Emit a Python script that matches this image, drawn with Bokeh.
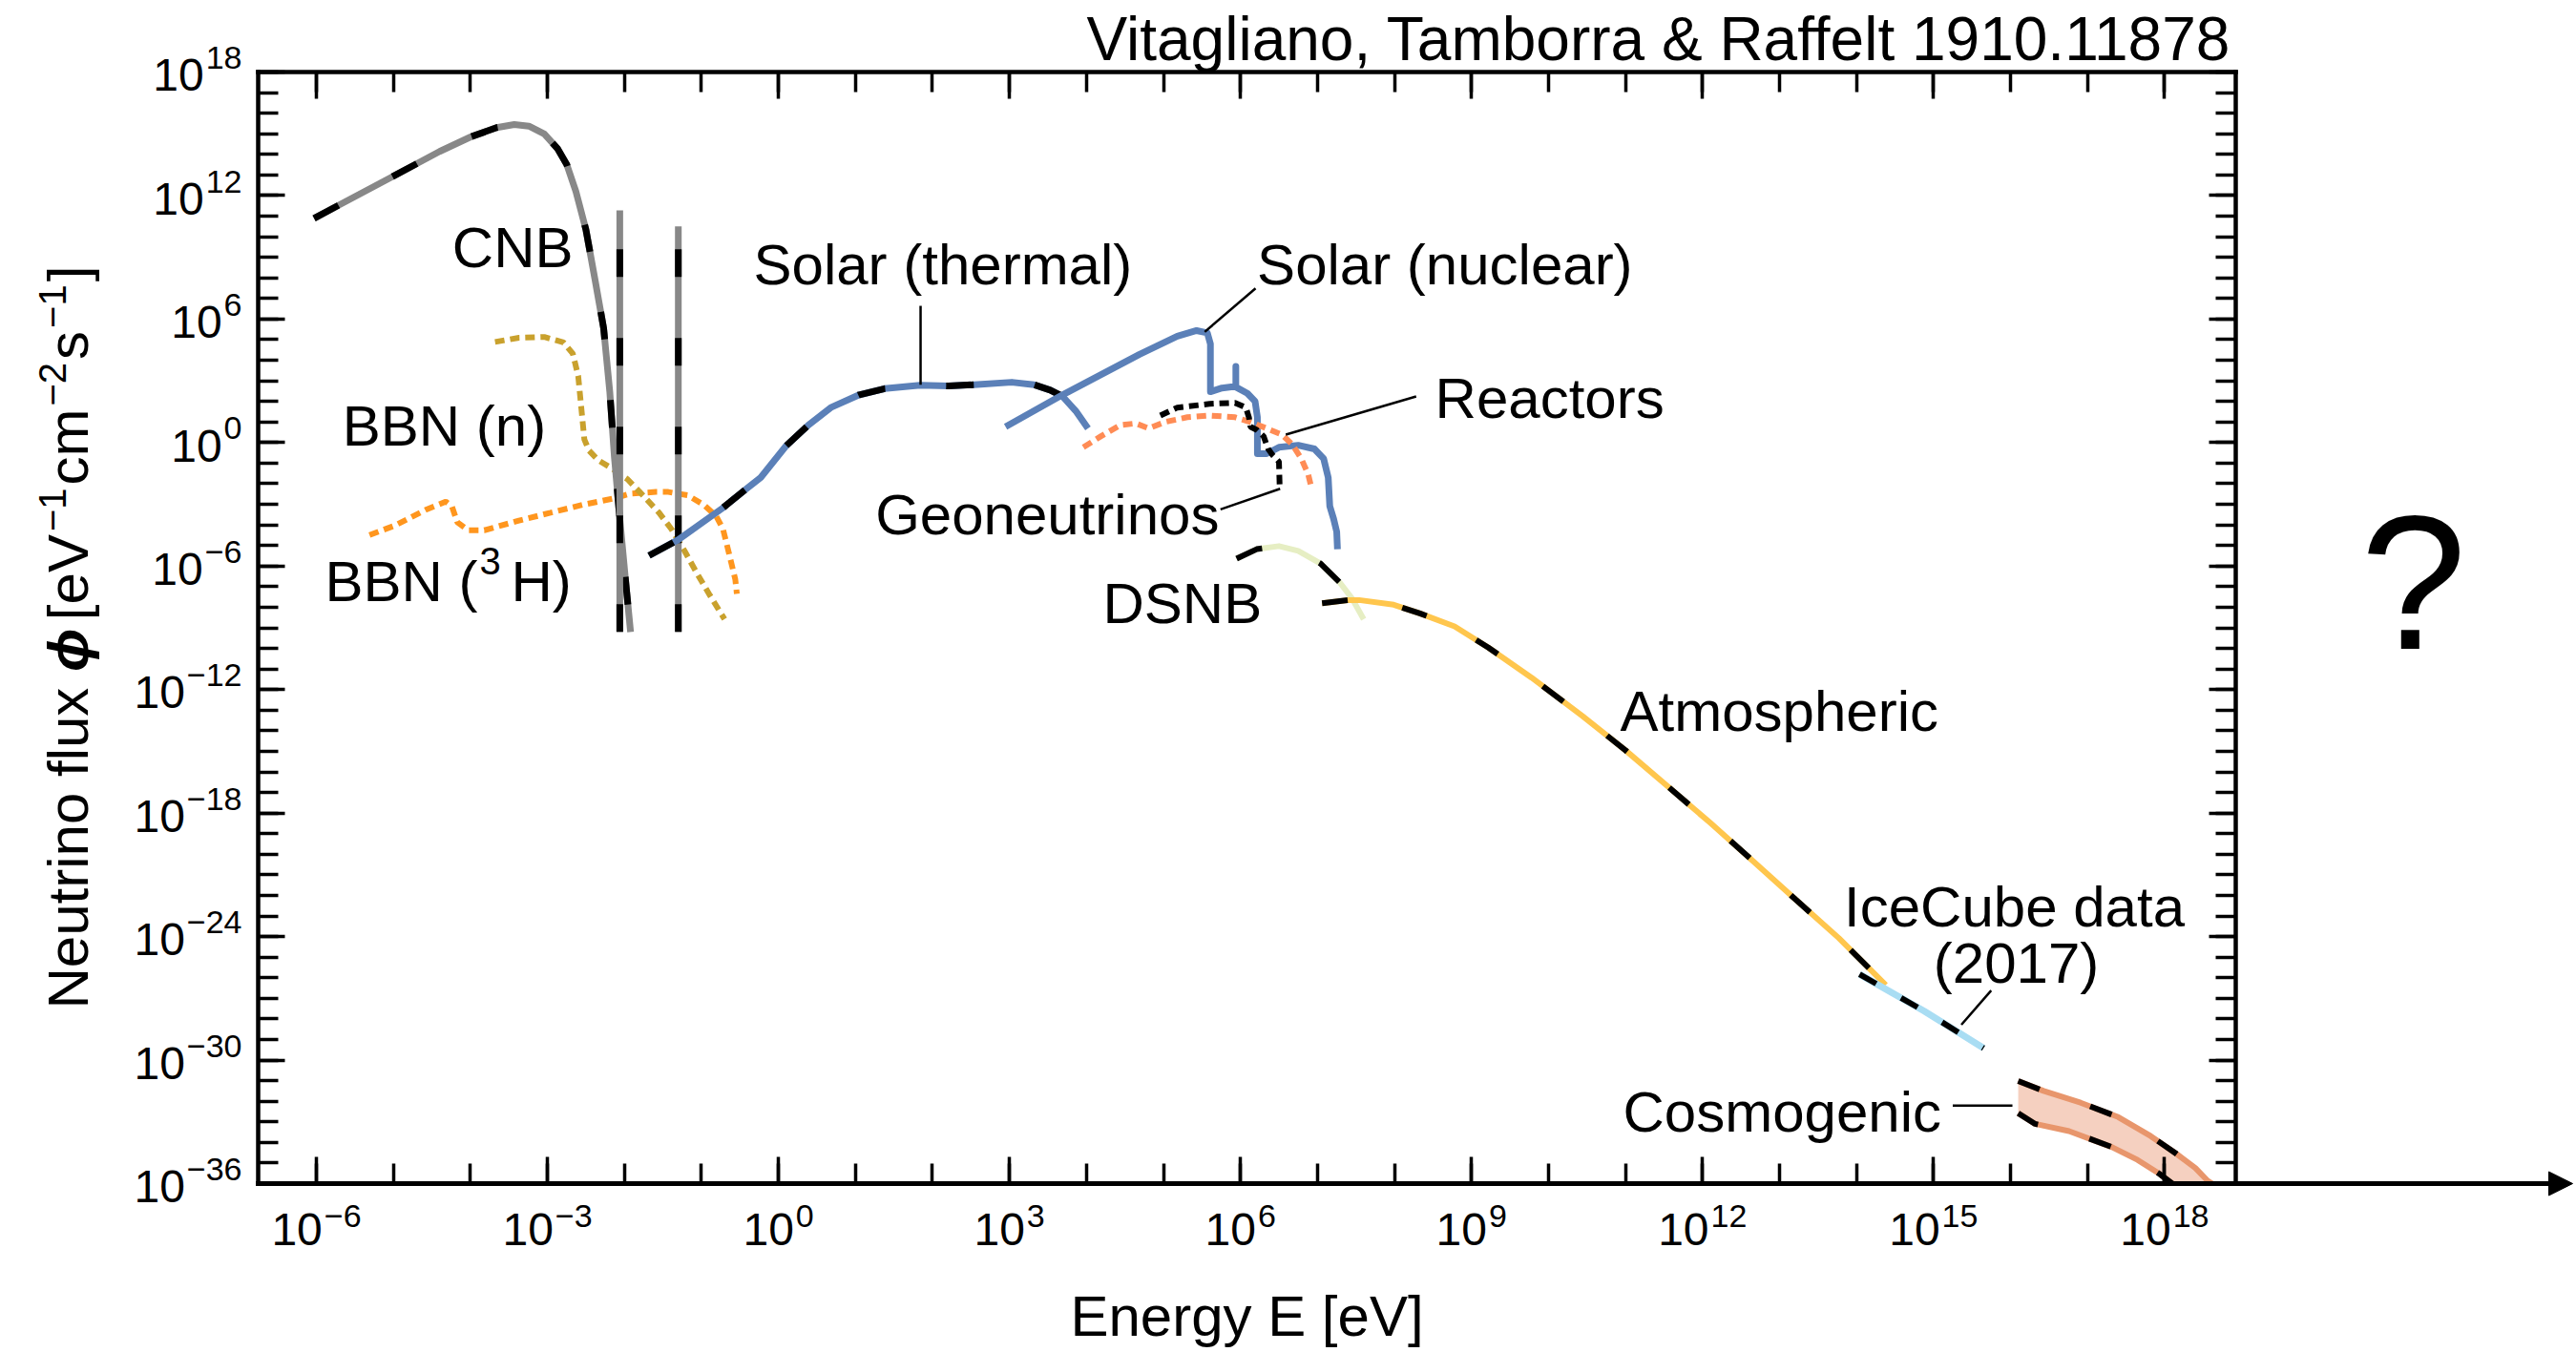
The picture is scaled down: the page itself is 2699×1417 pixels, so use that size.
import math
from bokeh.plotting import figure
from bokeh.models import Label, Arrow, NormalHead, FixedTicker, LogAxis, Range1d, CustomJSTickFormatter
from bokeh.embed import file_html
from bokeh.resources import INLINE

# ---------------- data : log10(E / eV) and log10(flux / eV^-1 cm^-2 s^-1) ----------------
cnb_logE = [-6.03, -5.72, -5.02, -4.40, -3.99, -3.66, -3.43, -3.24, -3.04, -2.87, -2.75, -2.63,
            -2.50, -2.38, -2.27, -2.19, -2.13, -2.06, -1.99, -1.92]
cnb_logF = [10.89, 11.51, 12.90, 14.14, 14.86, 15.30, 15.45, 15.37, 14.99, 14.29, 13.52, 12.20,
            10.35, 7.88, 5.56, 2.47, -0.70, -3.70, -6.50, -9.20]
cnb_lines_logE = [-2.06, -1.30]
cnb_lines_top = [11.28, 10.50]
cnb_lines_bottom = [-9.20, -9.20]

bbn_n_logE = [-3.68, -3.37, -3.04, -2.79, -2.67, -2.60, -2.56, -2.52, -2.46, -2.34, -2.17, -1.96,
              -1.76, -1.55, -1.39, -1.22, -1.06, -0.89, -0.70]
bbn_n_logF = [4.89, 5.09, 5.13, 4.86, 4.32, 3.24, 1.69, 0.15, -0.39, -0.86, -1.24, -1.78,
              -2.56, -3.41, -4.20, -5.26, -6.34, -7.42, -8.58]

bbn_h_logE = [-5.31, -4.98, -4.57, -4.32, -4.24, -4.17, -4.03, -3.82, -3.37, -2.96, -2.54, -2.13,
              -1.92, -1.59, -1.43, -1.18, -0.97, -0.81, -0.72, -0.64, -0.56, -0.54]
bbn_h_logF = [-4.49, -4.03, -3.25, -2.87, -3.10, -3.87, -4.26, -4.26, -3.79, -3.41, -3.02, -2.71,
              -2.48, -2.40, -2.40, -2.56, -3.02, -3.56, -4.20, -5.41, -6.65, -7.35]

solar_th_logE = [-1.68, -1.30, -0.72, -0.44, -0.23, 0.10, 0.39, 0.68, 1.05, 1.38, 1.84, 2.21,
                 2.54, 3.03, 3.32, 3.53, 3.69, 3.86, 4.02]
solar_th_logF = [-5.49, -4.72, -3.17, -2.32, -1.70, -0.16, 0.85, 1.70, 2.32, 2.62, 2.78, 2.75,
                 2.81, 2.93, 2.81, 2.55, 2.24, 1.54, 0.69]

solar_nu_logE = [2.95, 3.69, 4.69, 5.18, 5.43, 5.57, 5.61, 5.61, 5.76, 5.88, 5.94, 5.94, 5.94,
                 6.09, 6.19, 6.22, 6.22, 6.34, 6.50, 6.75, 6.96, 7.08, 7.14, 7.16, 7.21, 7.25, 7.26]
solar_nu_logF = [0.77, 2.32, 4.29, 5.17, 5.44, 5.33, 4.79, 2.47, 2.65, 2.70, 2.70, 3.70, 2.70,
                 2.39, 2.00, 1.23, -0.54, -0.54, -0.23, -0.13, -0.31, -0.78, -1.70, -3.09, -3.71,
                 -4.33, -5.18]

geo_logE = [4.96, 5.18, 5.60, 5.93, 6.07, 6.11, 6.13, 6.21, 6.30, 6.36, 6.42, 6.50, 6.51]
geo_logF = [1.31, 1.70, 1.88, 1.93, 1.70, 1.23, 0.77, 0.62, 0.31, -0.31, -0.62, -0.93, -2.25]

reac_logE = [3.96, 4.19, 4.44, 4.64, 4.81, 5.02, 5.31, 5.60, 5.93, 6.13, 6.34, 6.54, 6.67, 6.79,
             6.88, 6.92]
reac_logF = [-0.23, 0.31, 0.85, 0.93, 0.69, 1.00, 1.23, 1.31, 1.23, 1.00, 0.69, 0.38, -0.08,
             -0.78, -1.55, -2.17]

dsnb_logE = [5.95, 6.21, 6.50, 6.75, 7.04, 7.29, 7.45, 7.60]
dsnb_logF = [-5.64, -5.18, -5.03, -5.26, -5.88, -6.80, -7.58, -8.58]

atm_logE = [7.06, 7.41, 7.54, 7.99, 8.33, 8.78, 9.22, 9.78, 10.44, 11.00, 11.55, 12.10, 12.66,
            13.21, 13.77, 14.38]
atm_logF = [-7.81, -7.65, -7.65, -7.88, -8.30, -8.93, -9.96, -11.42, -13.28, -14.95, -16.71,
            -18.47, -20.34, -22.20, -24.07, -26.35]

ice_logE = [14.04, 14.88, 15.65]
ice_logF = [-25.83, -27.62, -29.42]

cosmo_up_logE = [16.10, 16.43, 16.91, 17.40, 17.82, 18.15, 18.40, 18.56, 18.62]
cosmo_up_logF = [-31.02, -31.50, -32.07, -32.77, -33.69, -34.54, -35.24, -35.86, -36.00]
cosmo_lo_logE = [16.10, 16.32, 16.76, 17.32, 17.65, 17.94, 18.10]
cosmo_lo_logF = [-32.58, -33.10, -33.45, -34.23, -34.85, -35.54, -36.00]

x_major_exps = [-6, -3, 0, 3, 6, 9, 12, 15, 18]
x_minor_exps = list(range(-6, 19))
y_major_exps = [18, 12, 6, 0, -6, -12, -18, -24, -30, -36]
y_minor_exps = list(range(-36, 19))

# ---------------- geometry ----------------
XMIN, XMAX = -6.756, 18.925          # plot frame (decades)
YMIN, YMAX = -36.0, 18.0
W, H = 2699, 1417
FL, FR, FT, FB = 270, 2342, 75, 1240  # frame box in canvas pixels
PX = (FR - FL) / (XMAX - XMIN)       # pixels per decade (x)
PY = (FB - FT) / (YMAX - YMIN)       # pixels per decade (y)
FONT = "Liberation Sans"


def ex(v):
    return [10.0 ** t for t in v]


def px2x(X):
    return XMIN + (X - FL) / PX


def px2y(Y):
    return YMAX - (Y - FT) / PY


# the drawing area spans the whole canvas; the framed axes sit at fixed locations
p = figure(width=W, height=H, x_axis_type="log", y_axis_type="log",
           x_range=Range1d(10 ** px2x(0), 10 ** px2x(W)),
           y_range=Range1d(10 ** px2y(H), 10 ** px2y(0)),
           output_backend="svg", toolbar_location=None, min_border=0)
p.outline_line_color = None
p.grid.visible = False
p.background_fill_color = "white"
p.border_fill_color = "white"

bottom_axis = p.below[0]
left_axis = p.left[0]
top_axis = LogAxis()
right_axis = LogAxis()
p.add_layout(top_axis, "above")
p.add_layout(right_axis, "right")


def style_axis(ax, major, minor, lw, loc, bounds):
    ax.fixed_location = loc
    ax.bounds = bounds
    ax.ticker = FixedTicker(ticks=ex(major), minor_ticks=ex(minor))
    ax.formatter = CustomJSTickFormatter(code="return ''")
    ax.axis_line_width = lw
    ax.axis_line_color = "black"
    ax.axis_line_cap = "square"
    ax.major_tick_in = 28
    ax.major_tick_out = 0
    ax.minor_tick_in = 21
    ax.minor_tick_out = 0
    ax.major_tick_line_width = 3.5
    ax.minor_tick_line_width = 3.5
    ax.major_tick_line_color = "black"
    ax.minor_tick_line_color = "black"
    ax.major_label_text_font_size = "0px"
    ax.major_label_standoff = 0


xb = (10 ** XMIN, 10 ** XMAX)
yb = (10 ** YMIN, 10 ** YMAX)
style_axis(bottom_axis, x_major_exps, x_minor_exps, 5, 10 ** YMIN, xb)
style_axis(top_axis, x_major_exps, x_minor_exps, 4.5, 10 ** YMAX, xb)
style_axis(left_axis, y_major_exps, y_minor_exps, 4.5, 10 ** XMIN, yb)
style_axis(right_axis, y_major_exps, y_minor_exps, 4.5, 10 ** XMAX, yb)

# x-axis arrow beyond the frame
p.add_layout(Arrow(end=NormalHead(size=25, fill_color="black", line_color="black", line_width=1),
                   x_start=10 ** XMAX, y_start=10 ** YMIN,
                   x_end=10 ** px2x(2695), y_end=10 ** YMIN,
                   line_color="black", line_width=5))

DASH = "29 64"
DOT = "10 6"
LW = 7
LW2 = 6

# ---------------- curves ----------------
band_x = ex(cosmo_up_logE + cosmo_lo_logE[::-1])
band_y = ex(cosmo_up_logF + cosmo_lo_logF[::-1])
p.patch(band_x, band_y, fill_color="#F5D0C0", line_color=None)
for xs, ys in [(cosmo_up_logE, cosmo_up_logF), (cosmo_lo_logE, cosmo_lo_logF)]:
    p.line(ex(xs), ex(ys), line_color="#E8966C", line_width=LW2)
    p.line(ex(xs), ex(ys), line_color="black", line_width=LW2, line_dash="24 56")

p.line(ex(bbn_h_logE), ex(bbn_h_logF), line_color="#FF961E", line_width=LW2, line_dash=DOT)
p.line(ex(bbn_n_logE), ex(bbn_n_logF), line_color="#C9A12D", line_width=LW2, line_dash=DOT)

p.line(ex(cnb_logE), ex(cnb_logF), line_color="#888888", line_width=LW, line_join="round")
p.line(ex(cnb_logE), ex(cnb_logF), line_color="black", line_width=LW, line_dash=DASH)
for xe, yt, ybt in zip(cnb_lines_logE, cnb_lines_top, cnb_lines_bottom):
    p.line(ex([xe, xe]), ex([ybt, yt]), line_color="#888888", line_width=LW)
    p.line(ex([xe, xe]), ex([ybt, yt]), line_color="black", line_width=LW, line_dash=DASH)

p.line(ex(solar_th_logE), ex(solar_th_logF), line_color="#5B80B8", line_width=LW, line_join="round")
p.line(ex(solar_th_logE), ex(solar_th_logF), line_color="black", line_width=LW, line_dash=DASH)
p.line(ex(solar_nu_logE), ex(solar_nu_logF), line_color="#5B80B8", line_width=LW, line_join="round")

p.line(ex(reac_logE), ex(reac_logF), line_color="#FF8C55", line_width=LW2, line_dash=DOT)
p.line(ex(geo_logE), ex(geo_logF), line_color="black", line_width=LW2, line_dash=DOT)

p.line(ex(dsnb_logE), ex(dsnb_logF), line_color="#E6EEC3", line_width=LW2, line_join="round")
p.line(ex(dsnb_logE), ex(dsnb_logF), line_color="black", line_width=LW2, line_dash=DASH)

p.line(ex(atm_logE), ex(atm_logF), line_color="#FFC64D", line_width=LW2, line_join="round")
p.line(ex(atm_logE), ex(atm_logF), line_color="black", line_width=LW2, line_dash="27 58")

p.line(ex(ice_logE), ex(ice_logF), line_color="#A9DDF3", line_width=7)
p.line(ex(ice_logE), ex(ice_logF), line_color="black", line_width=LW2, line_dash="20 30")

# ---------------- leader lines ----------------
leaders = [(1.846, 6.642, 1.846, 2.807),     # Solar (thermal)
           (6.196, 7.49, 5.536, 5.376),      # Solar (nuclear)
           (8.282, 2.237, 6.589, 0.383),     # Reactors
           (5.741, -3.247, 6.515, -2.246),   # Geoneutrinos
           (15.749, -26.62, 15.362, -28.28), # IceCube
           (15.25, -32.21, 16.025, -32.21)]  # Cosmogenic
p.segment(x0=[10 ** l[0] for l in leaders], y0=[10 ** l[1] for l in leaders],
          x1=[10 ** l[2] for l in leaders], y1=[10 ** l[3] for l in leaders],
          line_color="black", line_width=2.5)

# ---------------- texts ----------------
AW = {'N': .722, 'e': .556, 'u': .556, 't': .278, 'r': .333, 'i': .222, 'n': .556, 'o': .556,
      ' ': .278, 'f': .278, 'l': .222, 'x': .5, '[': .278, 'V': .667, ']': .278, 'c': .5,
      'm': .833, 's': .5, '−': .584, 'ϕ': .62}
MID = 0.35   # distance from baseline to the visual middle, in em


def tw(s, size):
    return sum(AW.get(ch, .556) for ch in s) * size


def lab(lx, ly, text, size=60, align="left", angle=0.0, style="normal", x_off=0.0):
    """ly is the baseline position (log10); the label is anchored at its middle."""
    if angle == 0.0:
        y_mid = ly + MID * size / PY
        x_pos = lx
    else:
        y_mid = ly
        x_pos = lx - MID * size / PX
    p.add_layout(Label(x=10 ** x_pos, y=10 ** y_mid, text=text, text_font=FONT,
                       text_font_size=f"{size}px", text_align=align, text_baseline="middle",
                       angle=angle, text_font_style=style, x_offset=x_off, text_color="black"))


lab(-4.236, 8.50, "CNB")
lab(-5.662, -0.19, "BBN (n)")
lab(-5.888, -7.73, "BBN (")
lab(px2x(502), px2y(601.7), "3", size=40)
lab(px2x(535), -7.73, "H)")
lab(-0.323, 7.65, "Solar (thermal)")
lab(6.216, 7.65, "Solar (nuclear)")
lab(8.527, 1.16, "Reactors")
lab(1.259, -4.485, "Geoneutrinos")
lab(4.213, -8.81, "DSNB")
lab(10.931, -14.035, "Atmospheric")
lab(16.05, -23.54, "IceCube data", align="center")
lab(16.075, -26.27, "(2017)", align="center")
lab(10.968, -33.51, "Cosmogenic")
lab(px2x(2528), px2y(680), "?", size=200, align="center")
lab(px2x(2337), px2y(63), "Vitagliano, Tamborra & Raffelt 1910.11878", size=64, align="right")

# x tick labels
for e in x_major_exps:
    sup = ("−" if e < 0 else "") + str(abs(e))
    w10, ws, gap = tw("10", 48), tw(sup, 34), 2
    a = (w10 - gap - ws) / 2
    lab(e, px2y(1305), "10", size=48, align="right", x_off=a)
    lab(e, px2y(1286), sup, size=34, align="left", x_off=a + gap)

# y tick labels
for e in y_major_exps:
    sup = ("−" if e < 0 else "") + str(abs(e))
    ws = tw(sup, 34)
    lab(XMIN, e - 20 / PY, "10", size=48, align="right", x_off=-17 - ws - 2)
    lab(XMIN, e + 3 / PY, sup, size=34, align="right", x_off=-17)

# x axis title
lab(px2x(1306), px2y(1400), "Energy E [eV]", size=60, align="center")

# y axis title, rotated, composed from pieces
parts = [("Neutrino flux ", 60, "normal", False), ("ϕ", 60, "bold italic", False),
         (" [eV", 60, "normal", False), ("−1", 40, "normal", True), ("cm", 60, "normal", False),
         ("−2", 40, "normal", True), ("s", 60, "normal", False), ("−1", 40, "normal", True),
         ("]", 60, "normal", False)]
cursor = 1057.0
for text, size, style, is_sup in parts:
    if is_sup:
        cursor -= 3
    lead = len(text) - len(text.lstrip(" "))
    cursor -= lead * tw(" ", size)
    core = text.strip(" ")
    Xb = 68 if is_sup else 92
    lab(px2x(Xb), px2y(cursor), core, size=size, angle=math.pi / 2, style=style)
    cursor -= tw(core, size)
    trail = len(text) - len(text.rstrip(" "))
    cursor -= trail * tw(" ", size)
    if is_sup:
        cursor -= 3

open("out.html", "w").write(file_html(p, INLINE))
